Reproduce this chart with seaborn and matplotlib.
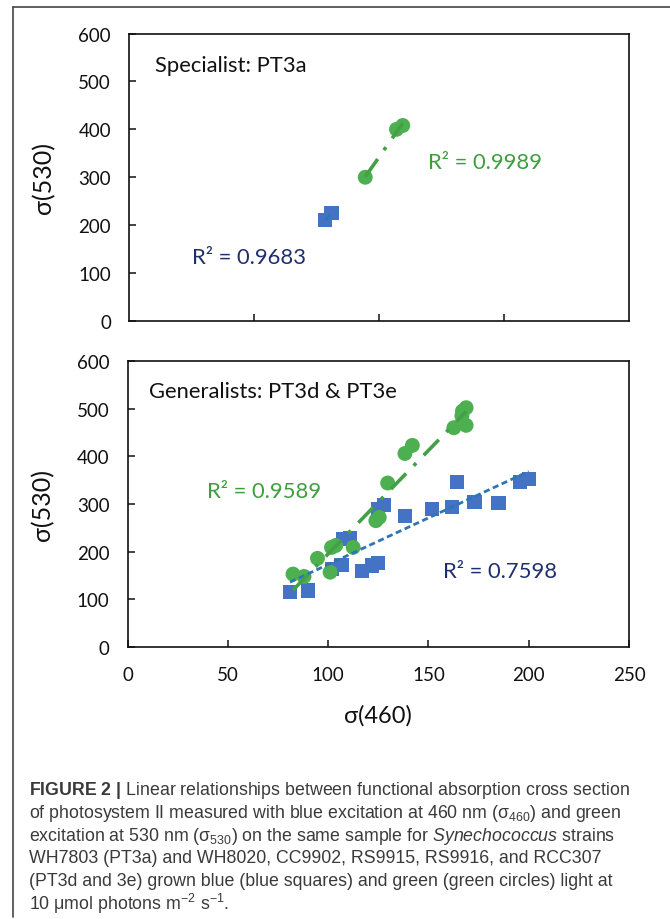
import numpy as np
import pandas as pd
import matplotlib
matplotlib.use("Agg")
import matplotlib.pyplot as plt
import seaborn as sns
from matplotlib.lines import Line2D

# ---------------- data ----------------
# Specialist PT3a (top panel)
top_blue_x = [78.5, 81.0]
top_blue_y = [211, 225]
top_green_x = [94.5, 107.0, 109.5]
top_green_y = [300, 400, 408]

# Generalists PT3d & PT3e (bottom panel)
bot_blue_x = [81, 90, 102, 106.7, 107.7, 111, 116.8, 122, 125, 124.7, 128,
              138.3, 151.8, 161.8, 164.3, 173, 185, 195.5, 200]
bot_blue_y = [115, 118.5, 164, 172, 226.6, 228, 159, 171, 176, 289, 298,
              275, 289, 293, 346.6, 305, 302, 346.6, 352]
bot_green_x = [82.5, 88, 94.7, 101, 101.7, 103.8, 112.5, 123.8, 125.5, 129.7,
               138.3, 142, 162.7, 168.8, 166.7, 168.8, 167]
bot_green_y = [153, 148, 186, 157, 209, 213, 209, 265, 272, 344,
               406, 423, 460, 465, 485, 502, 495]

top_title = "Specialist: PT3a"
bot_title = "Generalists: PT3d & PT3e"
r2_top_green = "R² = 0.9989"
r2_top_blue = "R² = 0.9683"
r2_bot_green = "R² = 0.9589"
r2_bot_blue = "R² = 0.7598"
y_ticks = [0, 100, 200, 300, 400, 500, 600]
x_ticks_bottom = [0, 50, 100, 150, 200, 250]
x_ticks_top = [50, 100, 150]
ylabel = "σ(530)"
xlabel = "σ(460)"

caption_lines = [
    r"$\bf{FIGURE\ 2\ |}$ Linear relationships between functional absorption cross section",
    r"of photosystem II measured with blue excitation at 460 nm (σ$_{460}$) and green",
    r"excitation at 530 nm (σ$_{530}$) on the same sample for $\it{Synechococcus}$ strains",
    "WH7803 (PT3a) and WH8020, CC9902, RS9915, RS9916, and RCC307",
    "(PT3d and 3e) grown blue (blue squares) and green (green circles) light at",
    r"10 μmol photons m$^{-2}$ s$^{-1}$.",
]

# ---------------- style ----------------
sns.set_style("ticks")
plt.rcParams["font.family"] = ["Lato", "DejaVu Sans"]
plt.rcParams["mathtext.fontset"] = "custom"
plt.rcParams["mathtext.rm"] = "Liberation Sans"
plt.rcParams["mathtext.it"] = "Liberation Sans:italic"
plt.rcParams["mathtext.bf"] = "Liberation Sans:bold"

BLUE_MK = "#4472C4"
BLUE_LN = "#2E75B6"
GREEN_MK = "#4CAF50"
GREEN_LN = "#43A047"
NAVY = "#1F2F6E"
GREEN_TXT = "#3E9E3E"
INK = "#111111"

W, H = 670, 920
fig = plt.figure(figsize=(W / 100, H / 100), dpi=100)

def ax_rect(l, r, t, b):
    return [l / W, 1 - b / H, (r - l) / W, (b - t) / H]

ax1 = fig.add_axes(ax_rect(129, 629, 34.5, 322))
ax2 = fig.add_axes(ax_rect(127.5, 629, 362, 648))

def panel(ax, bx, by, gx, gy, ms_sq=105, ms_ci=115):
    sns.regplot(x=bx, y=by, ax=ax, ci=None, marker="s",
                scatter_kws=dict(s=ms_sq, color=BLUE_MK, edgecolor="none", alpha=1, zorder=3),
                line_kws=dict(color=BLUE_LN, lw=2.0, ls=(0, (2.2, 1.3)), zorder=4))
    sns.regplot(x=gx, y=gy, ax=ax, ci=None, marker="o",
                scatter_kws=dict(s=ms_ci, color=GREEN_MK, edgecolor="none", alpha=1, zorder=3),
                line_kws=dict(color=GREEN_LN, lw=2.6, ls=(0, (6, 3, 1, 3)), zorder=4))
    ax.set_ylim(0, 600)
    ax.set_yticks(y_ticks)
    for s in ax.spines.values():
        s.set_visible(True)
        s.set_linewidth(1.2)
        s.set_color(INK)
    ax.tick_params(direction="in", length=5, width=1.1, color=INK,
                   labelsize=13.5, labelcolor=INK)
    ax.set_xlabel("")
    ax.set_ylabel("")

panel(ax1, top_blue_x, top_blue_y, top_green_x, top_green_y)
ax1.set_xlim(0, 200)
ax1.set_xticks(x_ticks_top)
ax1.set_xticklabels([])

panel(ax2, bot_blue_x, bot_blue_y, bot_green_x, bot_green_y)
ax2.set_xlim(0, 250)
ax2.set_xticks(x_ticks_bottom)
ax2.tick_params(axis="x", pad=14)
ax2.tick_params(axis="y", pad=13)
ax1.tick_params(axis="y", pad=13)

for ax in (ax1, ax2):
    ax.set_ylabel(ylabel, fontsize=18, color=INK)
ax1.yaxis.set_label_coords(-0.148, 0.5)
ax2.yaxis.set_label_coords(-0.145, 0.5)
ax2.set_xlabel(xlabel, fontsize=17, color=INK)
ax2.xaxis.set_label_coords(0.5, -0.2)

FS = 15.8
ax1.text(0.052, 0.89, top_title, transform=ax1.transAxes, va="center", ha="left",
         fontsize=FS, color=INK)
ax1.text(0.598, 0.552, r2_top_green, transform=ax1.transAxes, va="center", ha="left",
         fontsize=FS, color=GREEN_TXT)
ax1.text(0.126, 0.222, r2_top_blue, transform=ax1.transAxes, va="center", ha="left",
         fontsize=FS, color=NAVY)
ax2.text(0.043, 0.895, bot_title, transform=ax2.transAxes, va="center", ha="left",
         fontsize=FS, color=INK)
ax2.text(0.159, 0.545, r2_bot_green, transform=ax2.transAxes, va="center", ha="left",
         fontsize=FS, color=GREEN_TXT)
ax2.text(0.629, 0.266, r2_bot_blue, transform=ax2.transAxes, va="center", ha="left",
         fontsize=FS, color=NAVY)

# frame lines
fig.add_artist(Line2D([13 / W, 13 / W], [1 - 8 / H, 1 - 918 / H], color="#444444", lw=1.2))
fig.add_artist(Line2D([13 / W, 1.0], [1 - 8 / H, 1 - 8 / H], color="#444444", lw=1.2))

# caption
y0, dy = 791, 22.6
for i, line in enumerate(caption_lines):
    fig.text(29 / W, 1 - (y0 + i * dy) / H, line, ha="left", va="center",
             fontsize=12.8, color="#3a3a3a", family=["Liberation Sans", "DejaVu Sans"])

fig.savefig("out.png", dpi=100)
